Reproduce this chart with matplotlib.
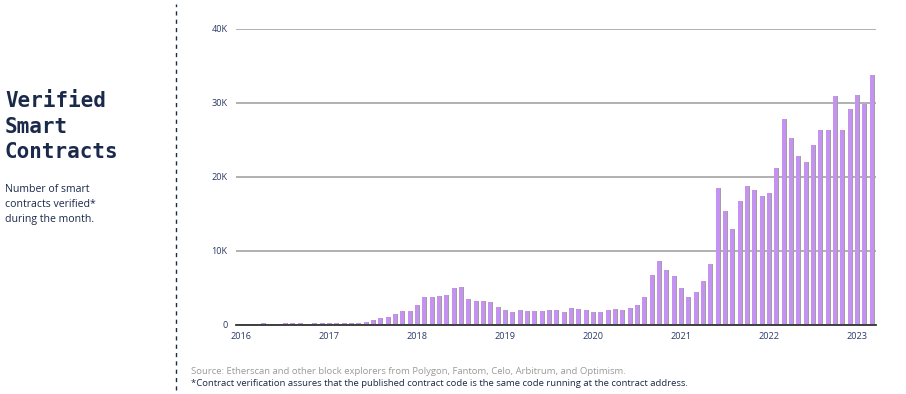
import numpy as np
import matplotlib.pyplot as plt

# monthly verified contracts, Jan 2016 .. Mar 2023
v2016 = [0, 0, 0, 220, 0, 0, 220, 220, 220, 0, 220, 220]
v2017 = [220, 220, 220, 300, 300, 380, 680, 900, 1120, 1490, 1940, 1940]
v2018 = [2700, 3760, 3760, 3870, 4010, 4950, 5130, 3470, 3290, 3290, 3060, 2390]
v2019 = [2030, 1800, 1980, 1890, 1890, 1890, 1980, 1980, 1710, 2230, 2120, 2000]
v2020 = [1710, 1800, 1980, 2115, 1980, 2250, 2655, 3825, 6750, 8600, 7500, 6600]
v2021 = [4950, 3735, 4410, 5900, 8280, 18570, 15430, 12920, 16690, 18840, 18300, 17400]
v2022 = [17850, 21250, 27800, 25280, 22850, 22040, 24290, 26360, 26360, 31000, 26360, 29200]
v2023 = [31100, 29870, 33750]

values = np.array(v2016 + v2017 + v2018 + v2019 + v2020 + v2021 + v2022 + v2023)
years = ["2016", "2017", "2018", "2019", "2020", "2021", "2022", "2023"]
yticks = [0, 10000, 20000, 30000, 40000]
ylabels = ["0", "10K", "20K", "30K", "40K"]

navy = "#1b2a4a"
purple = "#c592f2"

fig = plt.figure(figsize=(9.06, 3.94), dpi=100)
ax = fig.add_axes([236/906, 1-325/394, 640/906, 296/394])

x = np.arange(len(values))
mask = values > 0
# grey shadow on the right side of each bar
ax.bar(x[mask] + 0.14, values[mask], width=0.55, color="#a0a0a0", zorder=2)
ax.bar(x[mask], values[mask], width=0.55, color=purple, zorder=3)

ax.set_xlim(-0.7, 86.6)
ax.set_ylim(0, 40000)
ax.set_yticks(yticks)
ax.set_yticklabels(ylabels)
ax.set_xticks(np.arange(0, len(values), 12))
ax.set_xticklabels(years)
ax.tick_params(length=0, labelsize=6.6, labelcolor="#2b3a66")
ax.tick_params(axis="y", pad=6)
ax.tick_params(axis="x", pad=5)
for lab in ax.get_xticklabels() + ax.get_yticklabels():
    lab.set_fontfamily("Open Sans")

ax.grid(axis="y", color="#aaaaaa", linewidth=1.3, zorder=1)
for s in ["top", "right", "left"]:
    ax.spines[s].set_visible(False)
ax.spines["bottom"].set_color("#333333")
ax.spines["bottom"].set_linewidth(1.3)
ax.spines["bottom"].set_zorder(5)

# left panel
fig.text(5/906, 1-91/394, "Verified\nSmart\nContracts", fontsize=15, fontweight="bold",
         family="DejaVu Sans Mono", color=navy, va="top", linespacing=1.35)
fig.text(5/906, 1-184/394, "Number of smart\ncontracts verified*\nduring the month.",
         fontsize=7.6, family="Open Sans", color=navy, va="top", linespacing=1.5)

fig.add_artist(plt.Line2D([176/906, 176/906], [0.01, 0.99], color=navy,
                          linewidth=1, linestyle=(0, (3, 3))))

fig.text(191/906, 1-371/394, "Source: Etherscan and other block explorers from Polygon, Fantom, Celo, Arbitrum, and Optimism.",
         fontsize=6.8, family="Open Sans", color="#9a9a9a", va="center")
fig.text(191/906, 1-383/394, "*Contract verification assures that the published contract code is the same code running at the contract address.",
         fontsize=6.8, family="Open Sans", color=navy, va="center")

fig.savefig("out.png", dpi=100)
